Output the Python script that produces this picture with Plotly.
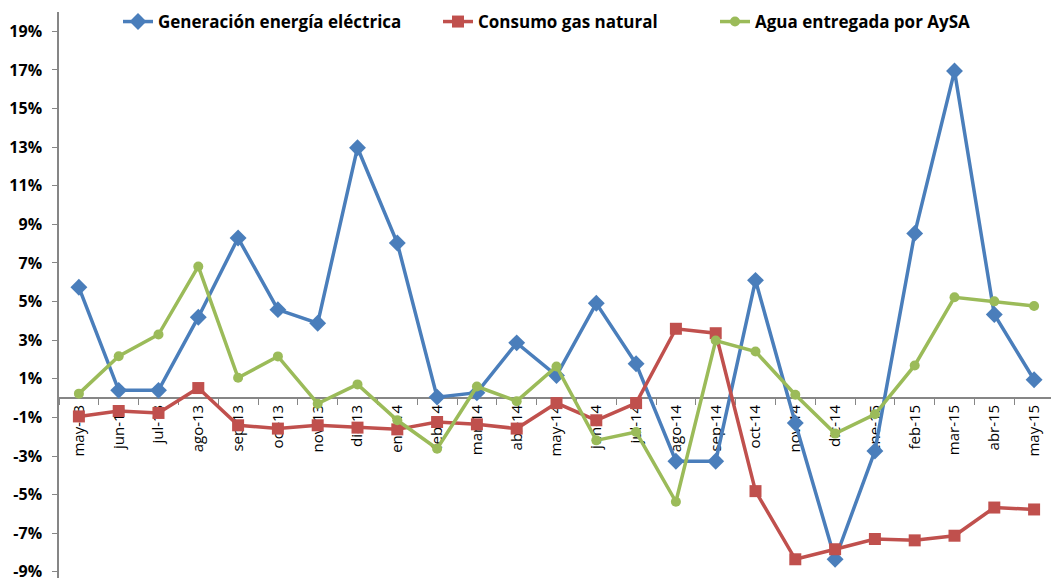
import plotly.graph_objects as go

categories = ["may-13", "jun-13", "jul-13", "ago-13", "sep-13", "oct-13", "nov-13", "dic-13",
              "ene-14", "feb-14", "mar-14", "abr-14", "may-14", "jun-14", "jul-14", "ago-14",
              "sep-14", "oct-14", "nov-14", "dic-14", "ene-15", "feb-15", "mar-15", "abr-15", "may-15"]

generacion = [5.74, 0.40, 0.40, 4.19, 8.29, 4.58, 3.88, 12.97, 8.03, 0.05, 0.28, 2.86,
              1.17, 4.91, 1.78, -3.27, -3.27, 6.10, -1.29, -8.35, -2.74, 8.53, 16.94, 4.33, 0.95]
gas = [-0.95, -0.67, -0.77, 0.52, -1.41, -1.58, -1.41, -1.53, -1.62, -1.24, -1.36, -1.58,
       -0.26, -1.15, -0.26, 3.59, 3.36, -4.82, -8.35, -7.83, -7.30, -7.37, -7.13, -5.67, -5.77]
agua = [0.23, 2.17, 3.29, 6.82, 1.05, 2.16, -0.29, 0.71, -1.15, -2.62, 0.60, -0.16,
        1.64, -2.19, -1.76, -5.37, 2.98, 2.41, 0.17, -1.84, -0.84, 1.69, 5.22, 5.01, 4.77]

names = ["Generación energía eléctrica", "Consumo gas natural", "Agua entregada por AySA"]
y_tickvals = [-9, -7, -5, -3, -1, 1, 3, 5, 7, 9, 11, 13, 15, 17, 19]
y_ticktext = [f"{v}%" for v in y_tickvals]

W, H = 1059, 578
OFF = 8  # page body margin offset
# desired plot area on screen: x 59..1054, y 12..578
ml, mr, mt, mb = 59 - OFF, W + OFF - 1054, 12 - OFF, H + OFF - 578
ymin, ymax = -9.32, 20.0
zero_pos = (0 - ymin) / (ymax - ymin)

fig = go.Figure()
fig.add_trace(go.Scatter(x=categories, y=generacion, name=names[0], mode="lines+markers",
                         line=dict(color="#4A7EBB", width=3.5),
                         marker=dict(symbol="diamond", size=13, color="#4A7EBB"),
                         legend="legend", showlegend=True))
fig.add_trace(go.Scatter(x=categories, y=gas, name=names[1], mode="lines+markers",
                         line=dict(color="#C0504D", width=3.5),
                         marker=dict(symbol="square", size=12, color="#C0504D"),
                         legend="legend2", showlegend=True))
fig.add_trace(go.Scatter(x=categories, y=agua, name=names[2], mode="lines+markers",
                         line=dict(color="#9BBB59", width=3.5),
                         marker=dict(symbol="circle", size=10, color="#9BBB59"),
                         legend="legend3", showlegend=True))

pw = W - ml - mr
def lx(px_screen):
    return (px_screen - 59) / pw

legend_common = dict(orientation="h", yanchor="middle", y=1 - (22 - 12) / (H - mt - mb),
                     xanchor="left", bgcolor="rgba(0,0,0,0)",
                     font=dict(family="Open Sans", size=17, color="black", weight=700))

fig.update_layout(
    width=W, height=H, showlegend=True,
    margin=dict(l=ml, r=mr, t=mt, b=mb, autoexpand=False),
    paper_bgcolor="white", plot_bgcolor="white",
    legend=dict(x=lx(118), **legend_common),
    legend2=dict(x=lx(438), **legend_common),
    legend3=dict(x=lx(715), **legend_common),
    xaxis=dict(type="category", range=[-0.5, len(categories) - 0.5], anchor="free",
               position=zero_pos, showline=True,
               linecolor="#868686", linewidth=1.5, ticks="outside", ticklen=6,
               tickcolor="#868686", tickson="boundaries", tickangle=-90,
               tickfont=dict(family="Open Sans", size=15, color="black"),
               showgrid=False, zeroline=False, layer="below traces", automargin=False),
    yaxis=dict(range=[ymin, ymax], tickvals=y_tickvals, ticktext=y_ticktext,
               showline=True, linecolor="#868686", linewidth=1.5, ticks="outside",
               ticklen=5, tickcolor="#868686", showgrid=False, zeroline=False,
               automargin=False, ticklabelstandoff=7,
               tickfont=dict(family="Open Sans", size=16, color="black", weight=700)),
)

fig.write_html("out.html")
